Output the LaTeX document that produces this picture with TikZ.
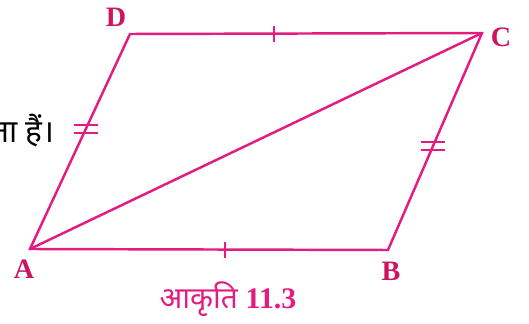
\documentclass[tikz,border=0pt]{standalone}
\usepackage{fontspec}
\setmainfont{Liberation Serif}
\newfontfamily\devfont[Script=Devanagari]{Noto Sans}
\usetikzlibrary{calc}
\definecolor{figpink}{RGB}{226,28,128}
\definecolor{labpink}{RGB}{205,20,95}
\tikzset{
  side/.style={draw=figpink, line width=1.4pt},
  tickmark/.style={draw=figpink, line width=1.2pt},
  vlabel/.style={text=labpink, font=\bfseries\fontsize{16}{16}\selectfont, inner sep=0pt},
  caption/.style={text=figpink, font=\fontsize{17}{17}\selectfont, inner sep=0pt}
}
\begin{document}
\begin{tikzpicture}[x=0.02cm, y=-0.02cm]
  \useasboundingbox (0,0) rectangle (529,324);
  % vertices
  \coordinate (A) at (30,249);
  \coordinate (B) at (388,250);
  \coordinate (C) at (482,33);
  \coordinate (D) at (130,34);
  \draw [side] (A) -- (B) -- (C) -- (D) -- cycle;
  \draw [side] (A) -- (C);
  % equal sides
  \coordinate (mAB) at ($(A)!0.545!(B)$);
  \coordinate (mDC) at ($(D)!0.41!(C)$);
  \draw [tickmark] ($(mAB)+(0,-8)$) -- ($(mAB)+(0,8)$);
  \draw [tickmark] ($(mDC)+(0,-8)$) -- ($(mDC)+(0,8)$);
  \coordinate (mAD) at ($(A)!0.56!(D)$);
  \coordinate (mBC) at ($(B)!0.48!(C)$);
  \foreach \m in {mAD,mBC} {
    \draw [tickmark] ($(\m)+(-12,-4)$) -- ($(\m)+(12,-4)$);
    \draw [tickmark] ($(\m)+(-12,4)$) -- ($(\m)+(12,4)$);
  }
  % labels
  \node (labA) [vlabel] at (24,269) {A};
  \node (labB) [vlabel] at (391,271) {B};
  \node (labC) [vlabel] at (501,37) {C};
  \node (labD) [vlabel] at (116,17) {D};
  \node (fig) [caption] at (228,299) {{\devfont आकृति} \textbf{11.3}};
  \node (txt) [anchor=east, inner sep=0pt, font=\devfont\fontsize{18}{18}\selectfont] at (55,131) {ता हैं।};
\end{tikzpicture}
\end{document}
